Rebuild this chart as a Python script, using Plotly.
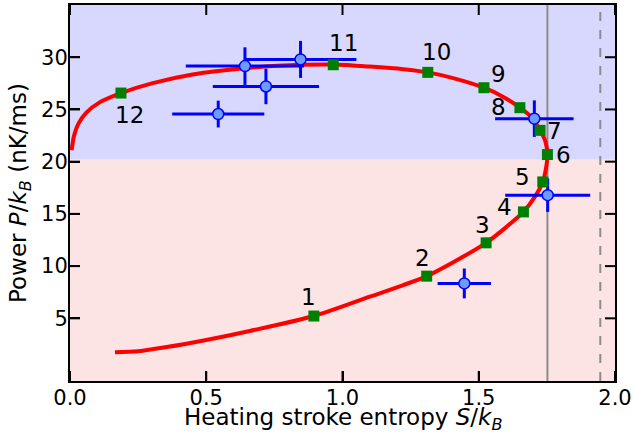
import plotly.graph_objects as go

# ---- data ----
S_curve = [0.006, 0.015, 0.03, 0.06, 0.11, 0.187, 0.30, 0.45, 0.64, 0.85, 0.966, 1.10, 1.223,
           1.313, 1.406, 1.519, 1.59, 1.651, 1.688, 1.725, 1.745, 1.752, 1.747, 1.735, 1.705,
           1.664, 1.602, 1.527, 1.431, 1.309, 1.223, 1.10, 0.895, 0.66, 0.5, 0.355, 0.25, 0.165]
P_curve = [21.1, 22.5, 23.6, 24.7, 25.7, 26.57, 27.5, 28.35, 28.95, 29.27, 29.3, 29.1, 28.85,
           28.55, 28.0, 27.08, 26.2, 25.17, 24.4, 23.0, 21.9, 20.68, 19.4, 18.06, 16.6,
           15.19, 13.76, 12.23, 10.73, 9.04, 8.18, 7.07, 5.22, 3.79, 2.93, 2.25, 1.85, 1.75]

point_labels = ["1", "2", "3", "4", "5", "6", "7", "8", "9", "10", "11", "12"]
S_points = [0.895, 1.309, 1.527, 1.664, 1.735, 1.752, 1.725, 1.651, 1.519, 1.313, 0.966, 0.187]
P_points = [5.22, 9.04, 12.23, 15.19, 18.06, 20.68, 23.0, 25.17, 27.08, 28.55, 29.28, 26.57]

S_exp = [0.544, 0.642, 0.719, 0.846, 1.704, 1.753, 1.447]
S_exp_err = [0.169, 0.217, 0.195, 0.205, 0.144, 0.156, 0.098]
P_exp = [24.56, 29.15, 27.2, 29.79, 24.12, 16.79, 8.34]
P_exp_err = [1.28, 1.8, 1.7, 1.77, 1.75, 1.6, 1.43]

P_threshold = 20.2
S_line_solid = 1.752
S_line_dashed = 1.946

x_ticks = [0.0, 0.5, 1.0, 1.5, 2.0]
x_ticktext = ["0.0", "0.5", "1.0", "1.5", "2.0"]
y_ticks = [5, 10, 15, 20, 25, 30]
x_range = [0, 2]
y_range = [-1, 35]

x_title = "Heating stroke entropy <i>S</i>/<i>k</i><sub><i>B</i></sub>"
y_title = "Power <i>P</i>/<i>k</i><sub><i>B</i></sub> (nK/ms)"

# label offsets in pixels (style only)
label_shift = {
    "1": (-5, 19), "2": (-4, 18), "3": (-4, 18), "4": (-19, 5), "5": (-20, 5),
    "6": (16, 0), "7": (14, -1), "8": (-21, 1), "9": (15, 14), "10": (9, 20),
    "11": (10, 22), "12": (9, -22),
}

FONT = "DejaVu Sans"
PINK = "#fde4e4"
LAVENDER = "#d8d8fe"
TICK_LEN = 10
TICK_W = 2

fig = go.Figure()

# background regions
fig.add_shape(type="rect", xref="x", yref="y", x0=x_range[0], x1=x_range[1],
              y0=y_range[0], y1=P_threshold, fillcolor=PINK, line=dict(width=0), layer="below")
fig.add_shape(type="rect", xref="x", yref="y", x0=x_range[0], x1=x_range[1],
              y0=P_threshold, y1=y_range[1], fillcolor=LAVENDER, line=dict(width=0), layer="below")
fig.add_shape(type="line", xref="x", yref="y", x0=S_line_solid, x1=S_line_solid,
              y0=y_range[0], y1=y_range[1], line=dict(color="#8c8c8c", width=2), layer="between")
fig.add_shape(type="line", xref="x", yref="y", x0=S_line_dashed, x1=S_line_dashed,
              y0=y_range[0], y1=y_range[1], line=dict(color="#8c8c8c", width=2, dash="dash"),
              layer="between")

# inward tick marks on all four sides, placed at the axis tick values
for t in x_ticks:
    for anchor, sgn in ((0, 1), (1, -1)):
        fig.add_shape(type="line", xref="x", yref="paper", x0=t, x1=t,
                      ysizemode="pixel", yanchor=anchor, y0=0, y1=sgn * TICK_LEN,
                      line=dict(color="black", width=TICK_W), layer="above")
for t in y_ticks:
    for anchor, sgn in ((0, 1), (1, -1)):
        fig.add_shape(type="line", xref="paper", yref="y", y0=t, y1=t,
                      xsizemode="pixel", xanchor=anchor, x0=0, x1=sgn * TICK_LEN,
                      line=dict(color="black", width=TICK_W), layer="above")

fig.add_trace(go.Scatter(
    x=S_curve, y=P_curve, mode="lines",
    line=dict(color="red", width=4, shape="spline", smoothing=0.8),
    showlegend=False, hoverinfo="skip"))

fig.add_trace(go.Scatter(
    x=S_exp, y=P_exp, mode="markers",
    error_x=dict(type="data", array=S_exp_err, color="blue", thickness=3, width=0),
    error_y=dict(type="data", array=P_exp_err, color="blue", thickness=3, width=0),
    marker=dict(symbol="circle", size=11, color="#6b9cff", line=dict(color="blue", width=1.5)),
    showlegend=False))

fig.add_trace(go.Scatter(
    x=S_points, y=P_points, mode="markers",
    marker=dict(symbol="square", size=11, color="green", line=dict(width=0)),
    showlegend=False))

for lab, sx, py in zip(point_labels, S_points, P_points):
    dx, dy = label_shift[lab]
    fig.add_annotation(x=sx, y=py, text=lab, showarrow=False,
                       xshift=dx, yshift=dy,
                       font=dict(family=FONT, size=23, color="black"))

# axis titles
fig.add_annotation(x=0.5, y=0, xref="paper", yref="paper", text=x_title, showarrow=False,
                   yanchor="middle", yshift=-38, font=dict(family=FONT, size=23, color="black"))
fig.add_annotation(x=0, y=0.5, xref="paper", yref="paper", text=y_title, showarrow=False,
                   textangle=-90, xanchor="center", xshift=-50,
                   font=dict(family=FONT, size=23, color="black"))

fig.update_layout(
    xaxis=dict(range=x_range, tickvals=x_ticks, ticktext=x_ticktext,
               showline=True, linecolor="black", linewidth=2, mirror=True,
               ticks="inside", ticklen=TICK_LEN, tickwidth=TICK_W, tickcolor="black",
               ticklabelstandoff=-3,
               showgrid=False, zeroline=False,
               tickfont=dict(family=FONT, size=21, color="black")),
    yaxis=dict(range=y_range, tickvals=y_ticks,
               showline=True, linecolor="black", linewidth=2, mirror=True,
               ticks="inside", ticklen=TICK_LEN, tickwidth=TICK_W, tickcolor="black",
               ticklabelstandoff=-4,
               showgrid=False, zeroline=False,
               tickfont=dict(family=FONT, size=21, color="black")),
    width=634, height=433, margin=dict(l=70, r=19, t=5, b=52, autoexpand=False),
    plot_bgcolor="white", paper_bgcolor="white", font=dict(family=FONT),
)

fig.write_html("out.html")
